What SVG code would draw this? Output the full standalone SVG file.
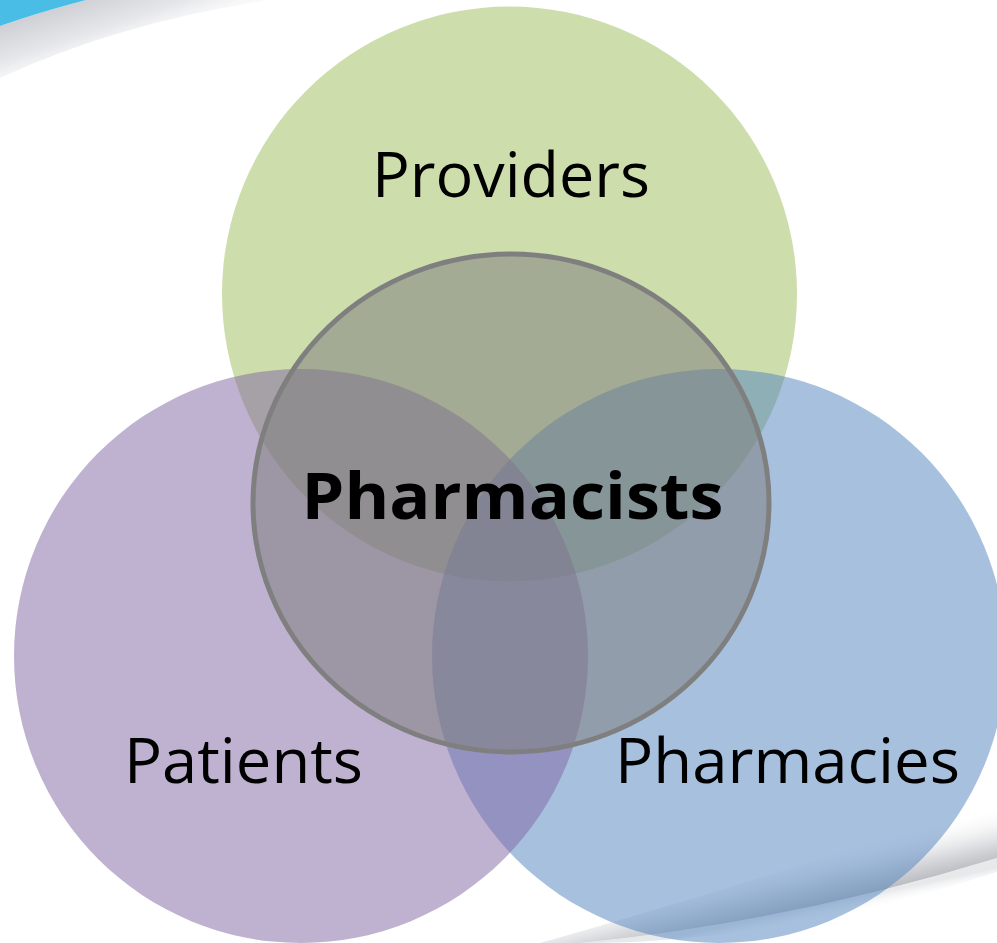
<svg xmlns="http://www.w3.org/2000/svg" width="997" height="943" viewBox="0 0 997 943">
  <defs>
    <style>
      .set { fill-opacity: 0.5; stroke: none; }
      .label { font-family: "Open Sans", "Noto Sans", "Liberation Sans", sans-serif; font-size: 63px; fill: #000; text-anchor: middle; }
      .title { font-size: 65px; font-weight: bold; }
      .core { fill: #7f7f7f; fill-opacity: 0.53; stroke: #7f7f7f; stroke-width: 5; }
    </style>
    <!-- soft page-curl shading -->
    <linearGradient id="shadeTop" gradientUnits="userSpaceOnUse" x1="38" y1="14" x2="62" y2="86">
      <stop offset="0" stop-color="#cfd0d5"/>
      <stop offset="0.45" stop-color="#e6e7ea"/>
      <stop offset="1" stop-color="#ffffff" stop-opacity="0"/>
    </linearGradient>
    <linearGradient id="shadeBottom" gradientUnits="userSpaceOnUse" x1="800" y1="910" x2="787" y2="855">
      <stop offset="0" stop-color="#b9bbc0"/>
      <stop offset="0.35" stop-color="#dadbdf"/>
      <stop offset="1" stop-color="#ffffff" stop-opacity="0"/>
    </linearGradient>
    <linearGradient id="shadeUnder" gradientUnits="userSpaceOnUse" x1="800" y1="910" x2="803" y2="924">
      <stop offset="0" stop-color="#c4c7cc" stop-opacity="0.4"/>
      <stop offset="1" stop-color="#ffffff" stop-opacity="0"/>
    </linearGradient>
  </defs>

  <rect width="997" height="943" fill="#ffffff"/>

  <!-- background swooshes -->
  <g id="background">
    <path d="M0,26 Q40,12 86,0 L270,0 Q120,22 0,78 Z" fill="url(#shadeTop)"/>
    <path d="M0,0 L86,0 Q40,12 0,26 Z" fill="#4abde6"/>
    <path d="M560,945 Q780,925 997,858 L997,800 Q780,875 540,943 Z" fill="url(#shadeBottom)"/>
    <path d="M560,945 Q780,925 997,858 L997,872 Q790,940 600,943 Z" fill="url(#shadeUnder)"/>
  </g>

  <!-- outer sets -->
  <g id="node-providers">
    <circle class="set" cx="509.5" cy="294" r="287.5" fill="#9bbb59"/>
    <text class="label" x="511" y="197" textLength="278" lengthAdjust="spacingAndGlyphs">Providers</text>
  </g>
  <g id="node-pharmacies">
    <circle class="set" cx="719" cy="656" r="287" fill="#4f81bd"/>
    <text class="label" x="787.5" y="783" textLength="345" lengthAdjust="spacingAndGlyphs">Pharmacies</text>
  </g>
  <g id="node-patients">
    <circle class="set" cx="301" cy="656" r="287" fill="#8064a2"/>
    <text class="label" x="243.5" y="783" textLength="239" lengthAdjust="spacingAndGlyphs">Patients</text>
  </g>

  <!-- centre set -->
  <g id="node-pharmacists">
    <ellipse class="core" cx="511" cy="503" rx="258" ry="249"/>
    <text class="label title" x="512.5" y="519" textLength="422" lengthAdjust="spacingAndGlyphs">Pharmacists</text>
  </g>
</svg>
